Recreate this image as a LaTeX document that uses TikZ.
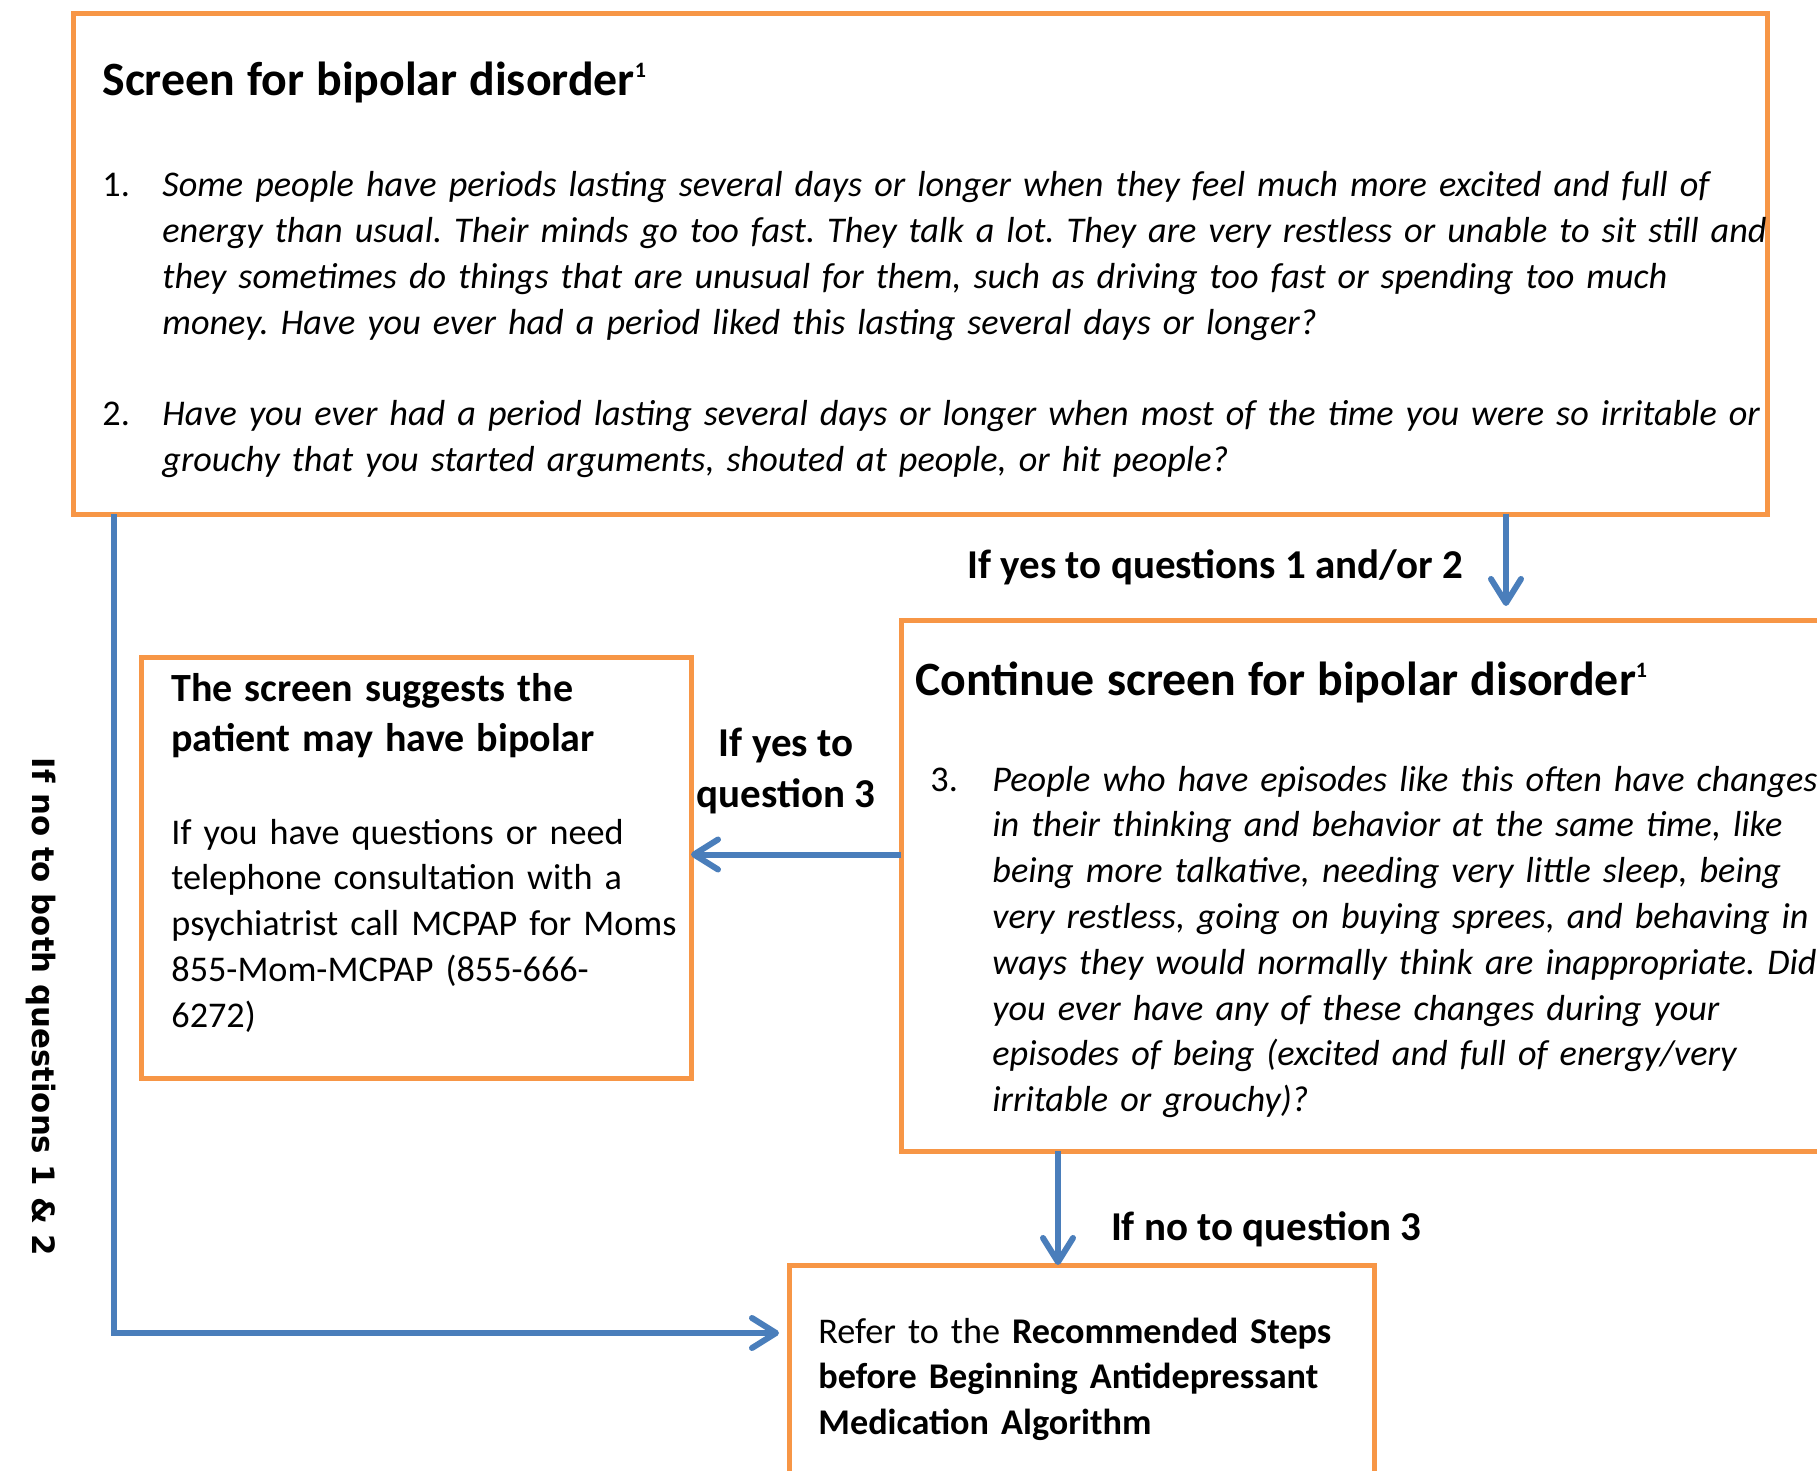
\documentclass[tikz,border=0pt]{standalone}
\usepackage{fontspec}
\setmainfont{Carlito}
\newfontfamily\sidefont{DejaVu Sans}
\usetikzlibrary{arrows.meta, positioning, calc}
\definecolor{orange1}{RGB}{247, 150, 70}
\definecolor{blue1}{RGB}{74, 126, 187}
\frenchspacing
\newcommand\bodysize{\fontsize{18.1}{22.9}\selectfont}
\newcommand\headsize{\fontsize{23.9}{29}\selectfont\bfseries}
\newcommand\labelsize{\fontsize{20.5}{25.5}\selectfont\bfseries}
\newcommand\supone{\raisebox{9pt}{\fontsize{11}{11}\selectfont 1}}
\newcommand\qnum[2]{\noindent\hangindent=#1\hangafter=1\makebox[#1][l]{#2}}

\begin{document}
\begin{tikzpicture}[x=0.5pt, y=-0.5pt,
    box/.style={draw=orange1, line width=2.5pt, inner sep=0pt, outer sep=0pt, anchor=north west},
    txt/.style={inner sep=0pt, anchor=base west, align=left, font=\bodysize},
    flow/.style={draw=blue1, line width=3pt, -{Straight Barb[length=12pt, width=15pt, round]}},
    lbl/.style={inner sep=0pt, font=\labelsize}]
  \useasboundingbox (0,0) rectangle (1817,1471);

  \node[box, minimum width=847pt, minimum height=250pt] (screen) at (73,14) {};
  \node[box, minimum width=520pt, minimum height=265.5pt] (cont) at (901,620) {};
  \node[box, minimum width=275pt, minimum height=210.5pt] (suggest) at (141,657) {};
  \node[box, minimum width=292.5pt, minimum height=150pt] (refer) at (789,1265) {};

  \node[txt, text width=900pt] (screentxt) at ([shift={(29,82)}]screen.north west) {
    {\headsize Screen for bipolar disorder\supone}\par
    \vspace{27.6pt}
    \qnum{30pt}{1.}{\itshape Some people have periods lasting several days or longer when they feel much more excited and full of\newline
    energy than usual. Their minds go too fast. They talk a lot. They are very restless or unable to sit still and\newline
    they sometimes do things that are unusual for them, such as driving too fast or spending too much\newline
    money. Have you ever had a period liked this lasting several days or longer?}\par
    \vspace{22.9pt}
    \qnum{30pt}{2.}{\itshape Have you ever had a period lasting several days or longer when most of the time you were so irritable or\newline
    grouchy that you started arguments, shouted at people, or hit people?}\par
  };

  \node[txt, text width=700pt] (conttxt) at ([shift={(14,75)}]cont.north west) {
    {\headsize Continue screen for bipolar disorder\supone}\par
    \vspace{25.1pt}
    \noindent\hangindent=38.5pt\hangafter=1\hspace*{7.5pt}\makebox[31pt][l]{3.}{\itshape People who have episodes like this often have changes\newline
    in their thinking and behavior at the same time, like\newline
    being more talkative, needing very little sleep, being\newline
    very restless, going on buying sprees, and behaving in\newline
    ways they would normally think are inappropriate. Did\newline
    you ever have any of these changes during your\newline
    episodes of being (excited and full of energy/very\newline
    irritable or grouchy)?}\par
  };

  \node[txt, text width=300pt] (suggesttxt) at ([shift={(30,44)}]suggest.north west) {
    {\fontsize{20}{25}\selectfont\bfseries The screen suggests the\\
    patient may have bipolar\par}
    \vspace{23.6pt}
    If you have questions or need\\
    telephone consultation with a\\
    psychiatrist call MCPAP for Moms\\
    855-Mom-MCPAP (855-666-\\
    6272)
  };

  \node[txt, text width=300pt] (refertxt) at ([shift={(29,78)}]refer.north west) {
    Refer to the \textbf{Recommended Steps}\\
    \textbf{before Beginning Antidepressant}\\
    \textbf{Medication Algorithm}
  };

  \coordinate (yesout) at ([xshift=-130.5pt]screen.south east);
  \draw[flow, shorten >=7pt] (yesout) -- (yesout |- cont.north)
    node[lbl, midway, left=20pt] (yes12) {If yes to questions 1 and/or 2};

  \path (suggest.east -| cont.west) coordinate (q3out);
  \draw[flow] ([yshift=6.5pt]q3out) -- ([yshift=6.5pt]suggest.east)
    node[lbl, midway, above=19pt, xshift=-5pt, align=center] (yes3) {If yes to\\ question 3};

  \coordinate (noout) at ([xshift=78.5pt]cont.south west);
  \draw[flow] (noout) -- (noout |- refer.north)
    node[lbl, pos=0.69, right=25pt] (no3) {If no to question 3};

  \coordinate (bend) at (114,1333);
  \draw[flow, shorten >=5pt] (screen.south -| bend) -- (bend) -- (bend -| refer.west);
  \node[rotate=-90, inner sep=0pt, font=\sidefont\bfseries\fontsize{15.4}{18}\selectfont] (no12) at (41,1007) {If no to both questions 1 \& 2};
\end{tikzpicture}
\end{document}
